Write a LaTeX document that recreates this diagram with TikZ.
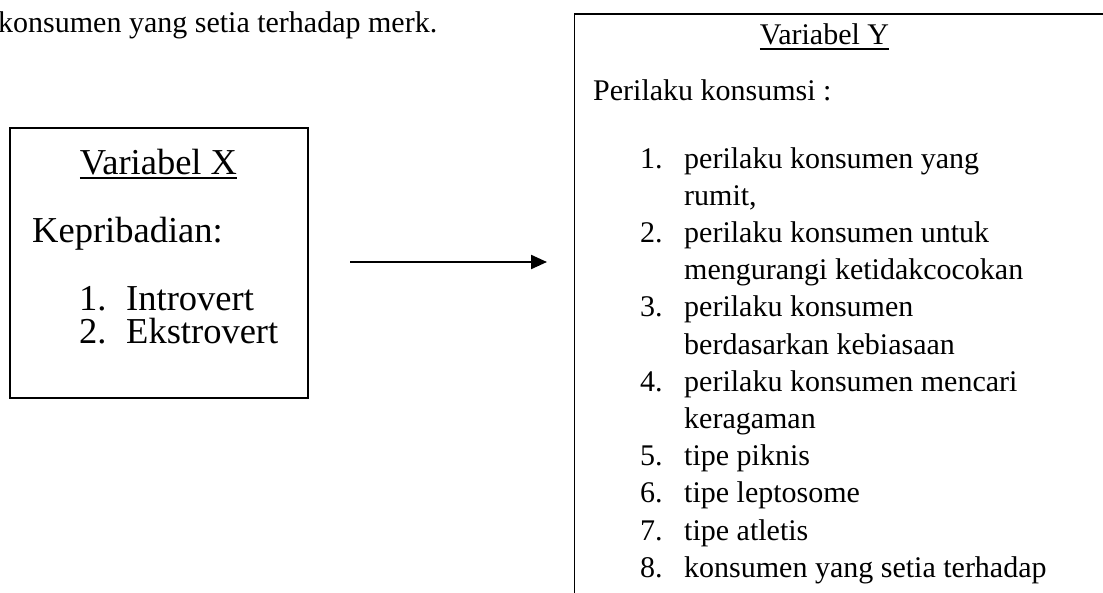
\documentclass[tikz,border=0pt]{standalone}
\usepackage{fontspec}
\setmainfont{Liberation Serif}
\usetikzlibrary{arrows.meta}
\begin{document}
\begin{tikzpicture}[x=1pt,y=-1pt,
  txt/.style={anchor=base west,inner sep=0pt,font=\fontsize{30}{34}\selectfont},
  bigtxt/.style={anchor=base west,inner sep=0pt,font=\fontsize{36.5}{40}\selectfont},
  frame/.style={draw,line width=1.9pt,inner sep=0pt},
  uline/.style={line width=1.6pt},
  arr/.style={line width=2.2pt,-{Triangle[length=16pt,width=14pt]}}]
\useasboundingbox (0,0) rectangle (1103,592);
\clip (0,0) rectangle (1103,592);
\node[txt] (top) at (-2,32) {konsumen yang setia terhadap merk.};
% left box
\node[frame,anchor=north west,minimum width=298pt,minimum height=270pt] (xbox) at (9,127) {};
\node[bigtxt,anchor=base] (vx) at (158.5,174) {Variabel X};
\draw[uline] ([yshift=-4pt]vx.base west) -- ([yshift=-4pt]vx.base east);
\node[bigtxt] (kep) at (32,242) {Kepribadian:};
\node[bigtxt] (xn1) at (79,310) {1.};
\node[bigtxt] (xi1) at (126,310) {Introvert};
\node[bigtxt] (xn2) at (79,343) {2.};
\node[bigtxt] (xi2) at (126,343) {Ekstrovert};
% arrow
\coordinate (as) at (350,262);
\coordinate (ae) at (547,262);
\draw[arr] (as) -- (ae);
% right box
\node[frame,anchor=north west,minimum width=700pt,minimum height=700pt] (ybox) at (573.5,12.7) {};
\node[txt,anchor=base] (vy) at (824.5,44) {Variabel Y};
\draw[uline] ([yshift=-5pt]vy.base west) -- ([yshift=-5pt]vy.base east);
\node[txt] (per) at (593,100) {Perilaku konsumsi :};
\node[txt] (yn1) at (640,168) {1.};
\node[txt] (yl1) at (684,168) {perilaku konsumen yang};
\node[txt] (yl1b) at (684,205.2) {rumit,};
\node[txt] (yn2) at (640,242.4) {2.};
\node[txt] (yl2) at (684,242.4) {perilaku konsumen untuk};
\node[txt] (yl2b) at (684,279.6) {mengurangi ketidakcocokan};
\node[txt] (yn3) at (640,316.8) {3.};
\node[txt] (yl3) at (684,316.8) {perilaku konsumen};
\node[txt] (yl3b) at (684,354) {berdasarkan kebiasaan};
\node[txt] (yn4) at (640,391.2) {4.};
\node[txt] (yl4) at (684,391.2) {perilaku konsumen mencari};
\node[txt] (yl4b) at (684,428.4) {keragaman};
\node[txt] (yn5) at (640,465.6) {5.};
\node[txt] (yl5) at (684,465.6) {tipe piknis};
\node[txt] (yn6) at (640,502.8) {6.};
\node[txt] (yl6) at (684,502.8) {tipe leptosome};
\node[txt] (yn7) at (640,540) {7.};
\node[txt] (yl7) at (684,540) {tipe atletis};
\node[txt] (yn8) at (640,577.2) {8.};
\node[txt] (yl8) at (684,577.2) {konsumen yang setia terhadap};
\end{tikzpicture}
\end{document}
